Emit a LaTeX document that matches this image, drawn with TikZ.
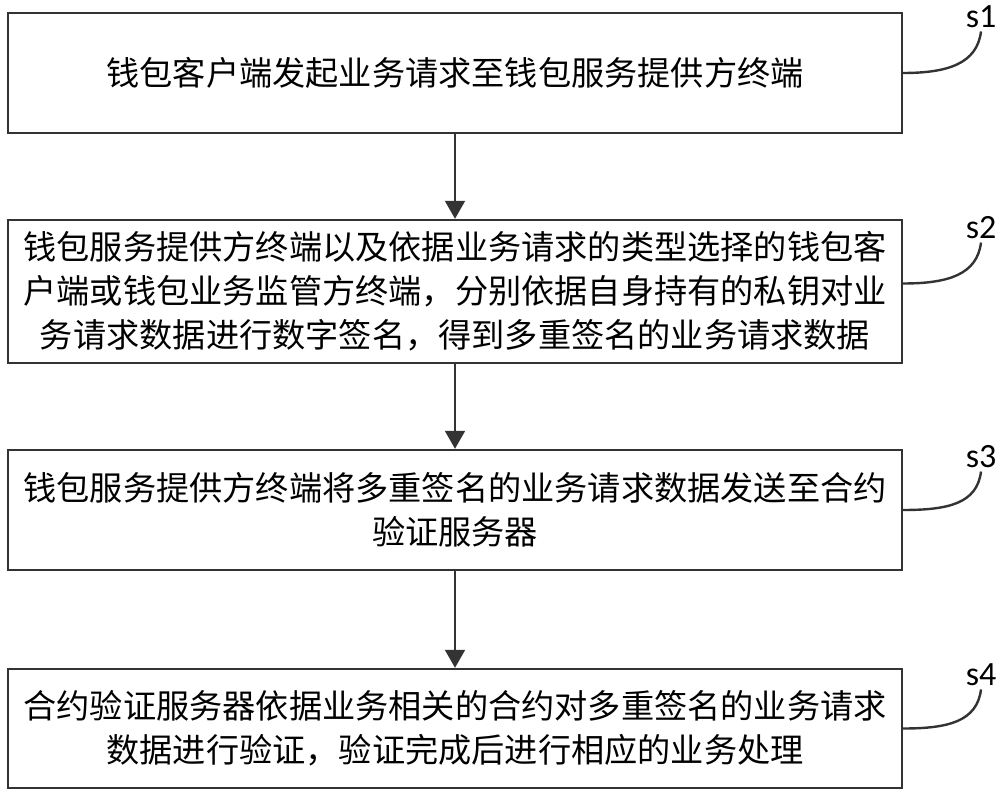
\documentclass[tikz,border=0pt]{standalone}
\usepackage{fontspec}
\setmainfont{Noto Sans CJK SC}
\newfontfamily\labfont{Carlito}
\usetikzlibrary{arrows.meta,calc}
\begin{document}
\begin{tikzpicture}[x=0.5pt,y=-0.5pt,
  stepbox/.style={draw=black!80, line width=1.2pt, minimum width=447pt, inner sep=0pt, align=center, font=\fontsize{16.6pt}{22pt}\selectfont},
  lab/.style={font=\labfont\fontsize{17pt}{17pt}\selectfont, inner sep=1.5pt},
  flow/.style={draw=black!80, line width=1pt, -{Triangle[width=10pt,length=9pt]}},
  lead/.style={draw=black!80, line width=1.2pt}]
\useasboundingbox (0,0) rectangle (1000,795);
\node[stepbox, minimum height=60pt] (b1) at (455,73) {钱包客户端发起业务请求至钱包服务提供方终端};
\node[stepbox, minimum height=71.5pt] (b2) at (455,291.5) {钱包服务提供方终端以及依据业务请求的类型选择的钱包客\\户端或钱包业务监管方终端，分别依据自身持有的私钥对业\\务请求数据进行数字签名，得到多重签名的业务请求数据};
\node[stepbox, minimum height=60pt] (b3) at (455,510) {钱包服务提供方终端将多重签名的业务请求数据发送至合约\\验证服务器};
\node[stepbox, minimum height=59.5pt] (b4) at (455,728.5) {合约验证服务器依据业务相关的合约对多重签名的业务请求\\数据进行验证，验证完成后进行相应的业务处理};
\node[lab] (s1) at (981,17) {s1};
\node[lab] (s2) at (981,228) {s2};
\node[lab] (s3) at (981,457) {s3};
\node[lab] (s4) at (981,675) {s4};
\draw[flow] (b1) -- (b2);
\draw[flow] (b2) -- (b3);
\draw[flow] (b3) -- (b4);
\draw[lead] (b1.east) .. controls +(45,0) and +(-4,32) .. (s1.south);
\draw[lead] ($(b2.east)+(0,-8)$) .. controls +(45,0) and +(-4,32) .. (s2.south);
\draw[lead] (b3.east) .. controls +(45,0) and +(-4,32) .. (s3.south);
\draw[lead] (b4.east) .. controls +(45,0) and +(-4,32) .. (s4.south);
\end{tikzpicture}
\end{document}
